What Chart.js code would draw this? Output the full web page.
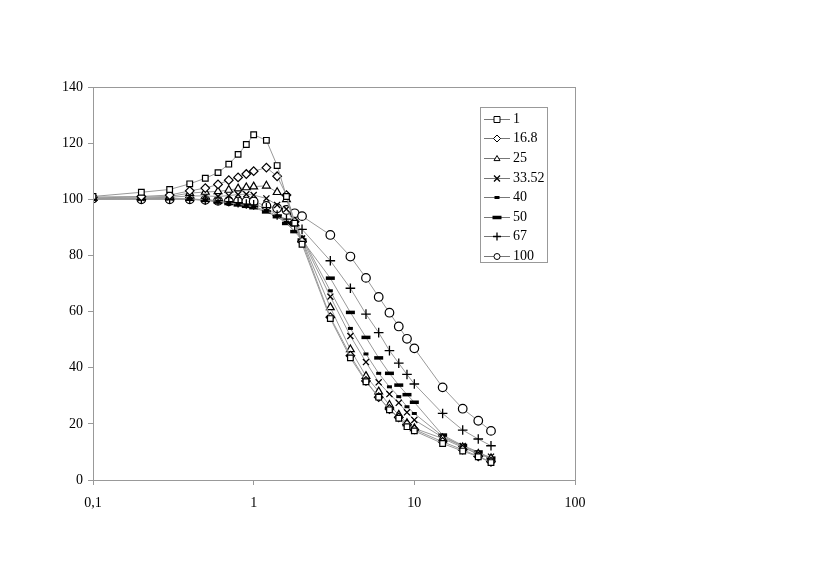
<!DOCTYPE html>
<html>
<head>
<meta charset="utf-8">
<script src="https://cdn.jsdelivr.net/npm/chart.js"></script>
<style>
  body { margin: 0; background: #fff; }
  #wrap { position: relative; width: 830px; height: 587px; }
  #legend {
    position: absolute; left: 480px; top: 107px; width: 68px; height: 156px;
    border: 1px solid #999; box-sizing: border-box; padding: 1px 0 0 3px;
    font-family: "Liberation Serif", "Times New Roman", serif; font-size: 14px; color: #000;
  }
  #legend .row { height: 19.6px; display: flex; align-items: center; }
  #legend canvas { margin-right: 3px; }
</style>
</head>
<body>
<div id="wrap">
  <canvas id="chart" width="830" height="587"></canvas>
  <div id="legend"></div>
</div>
<script>
const xValues = [0.1, 0.2, 0.3, 0.4, 0.5, 0.6, 0.7, 0.8, 0.9, 1, 1.2, 1.4, 1.6, 1.8, 2, 3, 4, 5, 6, 7, 8, 9, 10, 15, 20, 25, 30];
const seriesNames = ["1", "16.8", "25", "33.52", "40", "50", "67", "100"];

const s1   = [101, 102.5, 103.5, 105.5, 107.5, 109.5, 112.5, 116, 119.5, 123, 121, 112, 101, 91.5, 84, 57.5, 43.5, 35, 29.5, 25, 22, 19, 17.5, 13, 10.3, 8.3, 6.2];
const s168 = [100.8, 101, 101.5, 103, 104, 105.3, 106.8, 107.8, 109, 110, 111.3, 108.2, 101.5, 92, 85, 58, 44.3, 35.3, 29.5, 25.3, 22.3, 19.8, 18, 13.6, 10.8, 8.4, 6.5];
const s25  = [100.5, 100.8, 101, 102.2, 102.6, 102.8, 103.3, 103.8, 104.2, 104.5, 104.8, 102.5, 100, 91.5, 85.5, 61.5, 46.5, 37, 31.5, 26.7, 23.2, 20.2, 18.4, 14.8, 11.6, 9.3, 7.7];
const s335 = [100.3, 100.5, 100.7, 101.2, 101.2, 101, 101.3, 101.7, 101.8, 101.5, 100.3, 98, 96.5, 91.5, 86, 65.3, 51.3, 42, 34.8, 30.6, 27.5, 24.1, 21.4, 15.2, 12.1, 8.9, 8.3];
const s40  = [100, 100.3, 100.3, 100.2, 99.8, 99.3, 98.8, 98.2, 97.8, 97.3, 96, 94, 91.8, 88.5, 86.5, 67.4, 54, 44.9, 38, 33.2, 29.7, 26.1, 23.7, 15.6, 12, 9.8, 7.6];
const s50  = [100, 100.2, 100.2, 100, 99.6, 99, 98.5, 98, 97.5, 97, 95.5, 93.8, 91.4, 88.5, 85.5, 71.9, 59.7, 50.8, 43.5, 38, 33.8, 30.4, 27.7, 16, 12.3, 10, 7.8];
const s67  = [100, 100, 100, 100, 99.8, 99.5, 99.2, 98.8, 98.3, 98, 97, 94.4, 92.9, 90.5, 89.3, 78.1, 68.3, 59.1, 52.5, 46.1, 41.6, 37.6, 34.2, 23.7, 17.8, 14.6, 12.2];
const s100 = [100.3, 100, 100, 100, 99.8, 99.5, 99.3, 99.2, 99.2, 99.2, 97.6, 96.8, 96.2, 95, 94, 87.3, 79.6, 72, 65.2, 59.6, 54.7, 50.3, 46.9, 33, 25.4, 21.1, 17.5];

const allSeries = [s1, s168, s25, s335, s40, s50, s67, s100];

// marker look for each series
const markers = [
  { style: "rect", r: 4, w: 1.2 },
  { style: "rectRot", r: 4.3, w: 1.2 },
  { style: "triangle", r: 4.5, w: 1.2 },
  { style: "crossRot", r: 4.3, w: 1.3 },
  { style: "line", r: 2.5, w: 3 },
  { style: "line", r: 4.5, w: 3.5 },
  { style: "cross", r: 4.8, w: 1.3 },
  { style: "circle", r: 4.3, w: 1.2 }
];

const serif = "'Liberation Serif', 'Times New Roman', serif";

const datasets = allSeries.map((vals, i) => ({
  label: seriesNames[i],
  data: xValues.map((x, j) => ({ x: x, y: vals[j] })),
  borderColor: "#999",
  borderWidth: 1,
  backgroundColor: "#fff",
  pointStyle: markers[i].style,
  pointRadius: markers[i].r,
  pointBorderWidth: markers[i].w,
  pointBorderColor: "#000",
  pointBackgroundColor: "#fff",
  tension: 0
}));

const frame = {
  id: "frame",
  afterDraw(chart) {
    const a = chart.chartArea, c = chart.ctx;
    c.save();
    c.strokeStyle = "#999";
    c.lineWidth = 1;
    c.strokeRect(Math.round(a.left) + 0.5, Math.round(a.top) + 0.5,
      Math.round(a.right - a.left), Math.round(a.bottom - a.top));
    c.restore();
  }
};

new Chart(document.getElementById("chart"), {
  type: "line",
  data: { datasets: datasets },
  plugins: [frame],
  options: {
    responsive: false,
    animation: false,
    layout: { padding: { left: 33, top: 87, right: 255, bottom: 67 } },
    plugins: { legend: { display: false }, tooltip: { enabled: false } },
    scales: {
      x: {
        type: "logarithmic",
        min: 0.1,
        max: 100,
        afterBuildTicks: (scale) => {
          scale.ticks = [0.1, 1, 10, 100].map(v => ({ value: v }));
        },
        afterFit: (scale) => { scale.height = 40; },
        grid: { drawOnChartArea: false, drawTicks: true, tickLength: 5, color: "#999" },
        border: { display: true, color: "#999" },
        ticks: {
          autoSkip: false,
          maxRotation: 0,
          padding: 10,
          color: "#000",
          font: { family: serif, size: 14 },
          callback: (v) => v === 0.1 ? "0,1" : String(v)
        }
      },
      y: {
        min: 0,
        max: 140,
        afterFit: (scale) => { scale.width = 60; },
        grid: { drawOnChartArea: false, drawTicks: true, tickLength: 5, color: "#999" },
        border: { display: true, color: "#999" },
        ticks: {
          stepSize: 20,
          padding: 5,
          color: "#000",
          font: { family: serif, size: 14 }
        }
      }
    }
  }
});

// legend: line segment with marker, then the label
function drawMarker(ctx, m, x, y) {
  const r = 3;
  ctx.strokeStyle = "#000";
  ctx.fillStyle = "#fff";
  ctx.lineWidth = 1;
  ctx.beginPath();
  if (m.style === "rect") {
    ctx.rect(x - r, y - r, 2 * r, 2 * r); ctx.fill(); ctx.stroke();
  } else if (m.style === "rectRot") {
    ctx.moveTo(x, y - r - 0.5); ctx.lineTo(x + r + 0.5, y); ctx.lineTo(x, y + r + 0.5); ctx.lineTo(x - r - 0.5, y); ctx.closePath(); ctx.fill(); ctx.stroke();
  } else if (m.style === "triangle") {
    ctx.moveTo(x, y - r); ctx.lineTo(x + r, y + r * 0.7); ctx.lineTo(x - r, y + r * 0.7); ctx.closePath(); ctx.fill(); ctx.stroke();
  } else if (m.style === "crossRot") {
    ctx.lineWidth = 1.3;
    ctx.moveTo(x - r, y - r); ctx.lineTo(x + r, y + r); ctx.moveTo(x + r, y - r); ctx.lineTo(x - r, y + r); ctx.stroke();
  } else if (m.style === "line") {
    ctx.lineWidth = m.w;
    ctx.moveTo(x - m.r, y); ctx.lineTo(x + m.r, y); ctx.stroke();
  } else if (m.style === "cross") {
    ctx.lineWidth = 1.3;
    ctx.moveTo(x - r - 1, y); ctx.lineTo(x + r + 1, y); ctx.moveTo(x, y - r - 1); ctx.lineTo(x, y + r + 1); ctx.stroke();
  } else {
    ctx.arc(x, y, r, 0, Math.PI * 2); ctx.fill(); ctx.stroke();
  }
}

const legend = document.getElementById("legend");
seriesNames.forEach((name, i) => {
  const row = document.createElement("div");
  row.className = "row";
  const cv = document.createElement("canvas");
  cv.width = 26; cv.height = 12;
  const ctx = cv.getContext("2d");
  ctx.strokeStyle = "#777"; ctx.lineWidth = 1;
  ctx.beginPath(); ctx.moveTo(0, 6.5); ctx.lineTo(26, 6.5); ctx.stroke();
  drawMarker(ctx, markers[i], 13, 6.5);
  const sp = document.createElement("span");
  sp.textContent = name;
  row.appendChild(cv);
  row.appendChild(sp);
  legend.appendChild(row);
});
</script>
</body>
</html>
